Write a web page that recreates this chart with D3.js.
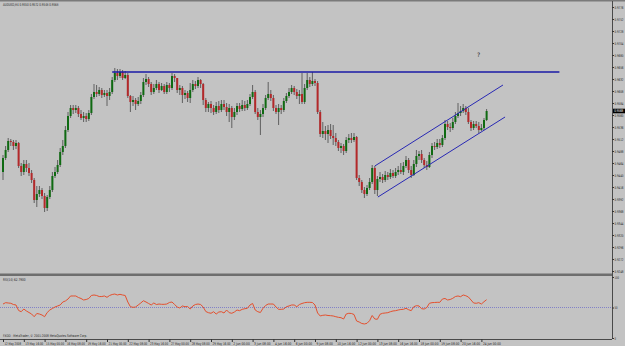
<!DOCTYPE html>
<html>
<head>
<meta charset="utf-8">
<title>AUDUSD H4 with RSI</title>
<script src="https://d3js.org/d3.v7.min.js"></script>
<style>
  body { margin: 0; background: #c3c3c3; }
  svg { display: block; }
  text { font-family: "DejaVu Sans", sans-serif; fill: #1e1e1e; }
</style>
</head>
<body>
<svg width="625" height="346"></svg>
<script>
// ---- data ----
const symbol = "AUDUSD,H4";
const firstOpen = 0.9446;
const close = [
  0.9474,0.9490,0.9508,0.9506,0.9498,0.9504,0.9458,0.9446,0.9462,0.9454,
  0.9444,0.9430,0.9390,0.9402,0.9410,0.9398,0.9374,0.9396,0.9410,0.9438,
  0.9446,0.9460,0.9486,0.9498,0.9530,0.9558,0.9574,0.9570,0.9574,0.9562,
  0.9554,0.9558,0.9552,0.9564,0.9596,0.9606,0.9602,0.9610,0.9600,0.9604,
  0.9598,0.9606,0.9630,0.9644,0.9638,0.9646,0.9634,0.9640,0.9598,0.9586,
  0.9590,0.9582,0.9588,0.9600,0.9626,0.9632,0.9622,0.9606,0.9614,0.9622,
  0.9610,0.9618,0.9606,0.9620,0.9614,0.9638,0.9634,0.9610,0.9614,0.9600,
  0.9604,0.9594,0.9610,0.9622,0.9618,0.9630,0.9622,0.9590,0.9574,0.9582,
  0.9574,0.9566,0.9578,0.9570,0.9582,0.9576,0.9566,0.9574,0.9556,0.9566,
  0.9578,0.9572,0.9580,0.9574,0.9582,0.9596,0.9606,0.9566,0.9556,0.9562,
  0.9574,0.9594,0.9602,0.9594,0.9574,0.9566,0.9574,0.9570,0.9588,0.9598,
  0.9606,0.9614,0.9606,0.9598,0.9602,0.9586,0.9614,0.9630,0.9622,0.9628,
  0.9624,0.9566,0.9522,0.9528,0.9522,0.9530,0.9518,0.9514,0.9506,0.9494,
  0.9498,0.9488,0.9510,0.9514,0.9510,0.9516,0.9434,0.9426,0.9410,0.9402,
  0.9414,0.9426,0.9454,0.9410,0.9432,0.9436,0.9430,0.9440,0.9436,0.9444,
  0.9438,0.9446,0.9450,0.9446,0.9458,0.9470,0.9450,0.9440,0.9462,0.9478,
  0.9482,0.9470,0.9460,0.9456,0.9480,0.9498,0.9496,0.9504,0.9500,0.9514,
  0.9542,0.9536,0.9534,0.9546,0.9558,0.9564,0.9568,0.9574,0.9566,0.9546,
  0.9534,0.9542,0.9538,0.9530,0.9534,0.9550,0.9568
];
const high = [
  0.9480,0.9498,0.9514,0.9512,0.9510,0.9510,0.9506,0.9464,0.9470,0.9470,
  0.9464,0.9450,0.9434,0.9418,0.9418,0.9414,0.9404,0.9400,0.9418,0.9446,
  0.9456,0.9470,0.9494,0.9510,0.9538,0.9566,0.9580,0.9580,0.9580,0.9578,
  0.9570,0.9566,0.9564,0.9570,0.9602,0.9622,0.9620,0.9616,0.9614,0.9610,
  0.9610,0.9614,0.9636,0.9654,0.9652,0.9652,0.9650,0.9648,0.9644,0.9600,
  0.9598,0.9594,0.9596,0.9606,0.9634,0.9642,0.9636,0.9626,0.9622,0.9630,
  0.9626,0.9624,0.9622,0.9626,0.9624,0.9644,0.9642,0.9634,0.9620,0.9618,
  0.9610,0.9608,0.9624,0.9630,0.9628,0.9636,0.9632,0.9624,0.9594,0.9586,
  0.9588,0.9580,0.9586,0.9588,0.9590,0.9590,0.9584,0.9582,0.9578,0.9574,
  0.9584,0.9584,0.9590,0.9588,0.9590,0.9602,0.9620,0.9610,0.9574,0.9570,
  0.9582,0.9600,0.9626,0.9610,0.9600,0.9580,0.9582,0.9580,0.9594,0.9604,
  0.9614,0.9620,0.9618,0.9612,0.9610,0.9644,0.9622,0.9644,0.9636,0.9646,
  0.9632,0.9628,0.9570,0.9546,0.9538,0.9540,0.9542,0.9540,0.9524,0.9510,
  0.9504,0.9502,0.9516,0.9522,0.9524,0.9524,0.9518,0.9440,0.9430,0.9416,
  0.9420,0.9434,0.9460,0.9458,0.9438,0.9446,0.9442,0.9448,0.9446,0.9452,
  0.9450,0.9454,0.9458,0.9464,0.9466,0.9478,0.9474,0.9458,0.9470,0.9490,
  0.9488,0.9490,0.9474,0.9468,0.9486,0.9504,0.9506,0.9512,0.9512,0.9520,
  0.9550,0.9548,0.9544,0.9554,0.9566,0.9584,0.9578,0.9582,0.9578,0.9574,
  0.9550,0.9548,0.9548,0.9546,0.9542,0.9554,0.9572
];
const low = [
  0.9430,0.9470,0.9486,0.9498,0.9490,0.9492,0.9454,0.9438,0.9440,0.9446,
  0.9438,0.9424,0.9384,0.9376,0.9396,0.9392,0.9366,0.9368,0.9392,0.9406,
  0.9434,0.9442,0.9456,0.9480,0.9494,0.9526,0.9554,0.9562,0.9564,0.9556,
  0.9550,0.9546,0.9546,0.9548,0.9560,0.9592,0.9596,0.9598,0.9594,0.9596,
  0.9578,0.9590,0.9602,0.9626,0.9630,0.9634,0.9630,0.9632,0.9594,0.9566,
  0.9578,0.9570,0.9578,0.9582,0.9596,0.9620,0.9616,0.9600,0.9602,0.9610,
  0.9604,0.9608,0.9602,0.9602,0.9606,0.9610,0.9626,0.9604,0.9600,0.9584,
  0.9592,0.9586,0.9584,0.9606,0.9612,0.9614,0.9614,0.9580,0.9566,0.9566,
  0.9564,0.9560,0.9562,0.9564,0.9566,0.9570,0.9558,0.9546,0.9534,0.9550,
  0.9560,0.9566,0.9568,0.9568,0.9570,0.9578,0.9592,0.9562,0.9550,0.9520,
  0.9556,0.9570,0.9590,0.9588,0.9568,0.9562,0.9540,0.9562,0.9566,0.9584,
  0.9594,0.9602,0.9600,0.9592,0.9582,0.9582,0.9582,0.9610,0.9616,0.9618,
  0.9618,0.9562,0.9516,0.9514,0.9510,0.9504,0.9512,0.9500,0.9498,0.9488,
  0.9484,0.9480,0.9484,0.9504,0.9504,0.9506,0.9430,0.9418,0.9404,0.9394,
  0.9398,0.9410,0.9422,0.9402,0.9398,0.9426,0.9424,0.9426,0.9430,0.9432,
  0.9434,0.9434,0.9440,0.9442,0.9440,0.9454,0.9444,0.9434,0.9438,0.9456,
  0.9470,0.9464,0.9454,0.9450,0.9454,0.9474,0.9490,0.9492,0.9494,0.9496,
  0.9510,0.9530,0.9526,0.9530,0.9542,0.9554,0.9558,0.9564,0.9560,0.9542,
  0.9528,0.9530,0.9534,0.9524,0.9528,0.9530,0.9548
];
const rsi = [
  55.7,57.9,57.4,56.9,54.9,54.1,45.1,43.1,47.5,44.3,
  41.8,39.3,34.9,40.2,39.3,37.7,34.9,41.8,45.9,48.4,
  50.8,52.5,54.1,59.0,60.7,63.9,68.9,68.9,68.9,66.4,
  64.8,62.3,63.1,64.8,69.7,70.5,69.7,68.0,68.0,68.9,
  66.7,69.7,71.3,72.1,70.5,71.6,70.5,69.7,59.0,51.3,
  50.3,50.8,54.1,57.4,61.1,59.0,56.6,54.1,57.4,54.9,
  55.7,55.2,55.2,55.7,58.2,59.0,54.9,50.8,49.2,52.5,
  51.3,51.6,47.5,52.5,54.9,55.7,54.9,50.8,43.4,41.5,
  40.5,43.1,39.3,42.6,43.1,41.0,45.9,41.5,40.5,42.6,
  45.9,44.8,47.0,48.0,48.7,54.1,56.6,45.9,43.1,41.8,
  48.7,53.3,55.7,55.7,55.7,50.8,47.0,47.0,47.5,51.3,
  52.5,54.1,54.1,51.3,54.9,56.6,57.9,58.5,58.5,58.2,
  54.1,41.0,36.1,37.2,37.7,36.9,36.6,36.1,34.9,33.9,
  33.3,31.1,39.3,40.5,40.2,38.5,27.9,26.2,23.8,23.0,
  24.1,28.4,36.9,31.1,30.7,38.9,40.5,41.0,41.5,43.1,
  44.3,44.8,45.9,46.7,47.0,48.7,46.4,44.8,51.3,53.0,
  52.5,48.0,47.5,50.0,56.9,57.9,58.2,58.5,58.5,63.9,
  64.8,62.3,63.1,65.1,68.0,68.9,67.7,70.5,69.3,67.2,
  62.3,57.4,56.9,57.9,55.7,59.5,62.79
];
const priceTicks = [
  0.9776,0.9752,0.9728,0.9704,0.9680,0.9656,0.9632,0.9608,0.9584,0.9560,
  0.9536,0.9512,0.9488,0.9464,0.9440,0.9416,0.9392,0.9368,0.9344,0.9320,
  0.9296,0.9272,0.9248
];
const rsiTicks = [100, 50, 0];
const timeLabels = [
  "12 May 2008","13 May 16:00","15 May 00:00","16 May 08:00","19 May 16:00",
  "21 May 00:00","22 May 08:00","23 May 16:00","27 May 00:00","28 May 08:00",
  "29 May 16:00","2 Jun 00:00","3 Jun 08:00","4 Jun 16:00","6 Jun 00:00",
  "9 Jun 08:00","10 Jun 16:00","12 Jun 00:00","13 Jun 08:00","16 Jun 16:00",
  "18 Jun 00:00","19 Jun 08:00","20 Jun 16:00","24 Jun 00:00"
];
const timeLabelBars = timeLabels.map((d, k) => k * 8);
// drawn objects: [bar, price] end points
const resistance = [[42, 0.9646], [214, 0.9646]];
const channelTop = [[143, 0.9458], [192.3, 0.9620]];
const channelBottom = [[144.2, 0.9396], [193.1, 0.9556]];

// ---- layout ----
const svg = d3.select("svg");
const axisX = 612, rsiTop = 277, rsiBottom = 338, timeY = 339;
const charW = 1.5; // text in the screenshot is tiny, squeeze labels to that width

const x = d3.scaleLinear().domain([0, 186]).range([3, 486.6]);
const y = d3.scaleLinear().domain([0.9790, 0.9248]).range([0, 271]);
const yr = d3.scaleLinear().domain([0, 100]).range([rsiBottom, rsiTop]);

const bars = close.map((c, i) => ({i, o: i ? close[i - 1] : firstOpen, h: high[i], l: low[i], c}));
const last = bars[bars.length - 1];

// horizontal squeeze round the text's own x so the box really shrinks
function fit(sel) {
  sel.each(function() {
    const w = this.getComputedTextLength();
    const s = Math.min(1, this.textContent.length * charW / w);
    const x0 = +this.getAttribute("x") || 0;
    d3.select(this).attr("transform", `translate(${x0},0) scale(${s},1) translate(${-x0},0)`);
  });
}

// frame
svg.append("rect").attr("x", 0).attr("y", 0).attr("width", 625).attr("height", 346).attr("fill", "#c3c3c3");
svg.append("rect").attr("x", 0).attr("y", 0).attr("width", 625).attr("height", 1.5).attr("fill", "#7a7a7a");
svg.append("rect").attr("x", 0).attr("y", 273.5).attr("width", axisX).attr("height", 2.5).attr("fill", "#6e6e6e");
svg.append("line").attr("x1", axisX + 0.5).attr("x2", axisX + 0.5).attr("y1", 1).attr("y2", timeY)
  .attr("stroke", "#4a4a4a").attr("stroke-width", 1);
svg.append("line").attr("x1", 0).attr("x2", axisX).attr("y1", timeY + 0.5).attr("y2", timeY + 0.5)
  .attr("stroke", "#4a4a4a").attr("stroke-width", 1);

// candles
const g = svg.append("g");
g.selectAll(".wick").data(bars).enter().append("line")
  .attr("x1", d => x(d.i)).attr("x2", d => x(d.i))
  .attr("y1", d => y(d.h)).attr("y2", d => y(d.l))
  .attr("stroke", "#555").attr("stroke-width", 0.9);
g.selectAll(".body").data(bars).enter().append("rect")
  .attr("x", d => x(d.i) - 1).attr("width", 2)
  .attr("y", d => y(Math.max(d.o, d.c)))
  .attr("height", d => Math.max(1, Math.abs(y(d.o) - y(d.c))))
  .attr("fill", d => d.c >= d.o ? "#0f6a12" : "#b3282a");

// trend lines
const tl = d3.line().x(d => x(d[0])).y(d => y(d[1]));
svg.append("path").attr("d", tl(resistance)).attr("stroke", "#1a1aa6").attr("stroke-width", 1.4).attr("fill", "none");
[channelTop, channelBottom].forEach(l =>
  svg.append("path").attr("d", tl(l)).attr("stroke", "#2828b4").attr("stroke-width", 1).attr("fill", "none"));
svg.append("text").attr("x", 477).attr("y", 57).attr("font-size", 6).text("?");

// price axis
const pa = svg.append("g").attr("transform", `translate(${axisX},0)`)
  .call(d3.axisRight(y).tickValues(priceTicks).tickFormat(d3.format(".4f")).tickSize(2).tickPadding(0.5));
pa.select(".domain").remove();
pa.selectAll("line").attr("stroke", "#333");
pa.selectAll("text").attr("font-size", 3.6).attr("fill", "#222").call(fit);

// current price marker
const cp = svg.append("g").attr("transform", `translate(${axisX + 1},${y(last.c)})`);
cp.append("rect").attr("x", 0).attr("y", -2.3).attr("width", 12).attr("height", 4.6).attr("fill", "#000");
cp.append("text").attr("x", 1.2).attr("y", 1.3).attr("font-size", 3.6).style("fill", "#fff")
  .text(last.c.toFixed(4)).call(fit);

// title
svg.append("text").attr("x", 3).attr("y", 6.5).attr("font-size", 3.8)
  .text(`${symbol} ${last.o.toFixed(4)} ${last.h.toFixed(4)} ${last.l.toFixed(4)} ${last.c.toFixed(4)}`).call(fit);

// RSI panel
svg.append("line").attr("x1", 0).attr("x2", axisX).attr("y1", yr(50)).attr("y2", yr(50))
  .attr("stroke", "#7070c8").attr("stroke-width", 0.8).attr("stroke-dasharray", "1,1");
svg.append("path").datum(rsi)
  .attr("d", d3.line().x((d, i) => x(i)).y(d => yr(d)))
  .attr("fill", "none").attr("stroke", "#e4502e").attr("stroke-width", 1);
svg.append("text").attr("x", 3).attr("y", 281).attr("font-size", 3.8)
  .text(`RSI(14) ${rsi[rsi.length - 1].toFixed(4)}`).call(fit);
const ra = svg.append("g").attr("transform", `translate(${axisX},0)`)
  .call(d3.axisRight(yr).tickValues(rsiTicks).tickSize(2).tickPadding(0.5));
ra.select(".domain").remove();
ra.selectAll("line").attr("stroke", "#333");
ra.selectAll("text").attr("font-size", 3.6).attr("fill", "#222").call(fit);
svg.append("text").attr("x", 3).attr("y", 337.5).attr("font-size", 3.6)
  .text("FXDD - MetaTrader, \u00a9 2001-2008 MetaQuotes Software Corp.").call(fit);

// time axis
const ta = svg.append("g").attr("transform", `translate(0,${timeY})`)
  .call(d3.axisBottom(x).tickValues(timeLabelBars).tickFormat((d, k) => timeLabels[k]).tickSize(3).tickPadding(0));
ta.select(".domain").remove();
ta.selectAll("line").attr("stroke", "#333");
ta.selectAll("text").attr("font-size", 3.6).attr("fill", "#222")
  .attr("text-anchor", "start").attr("x", 1).attr("dy", 0).attr("y", 5.8).call(fit);
</script>
</body>
</html>
